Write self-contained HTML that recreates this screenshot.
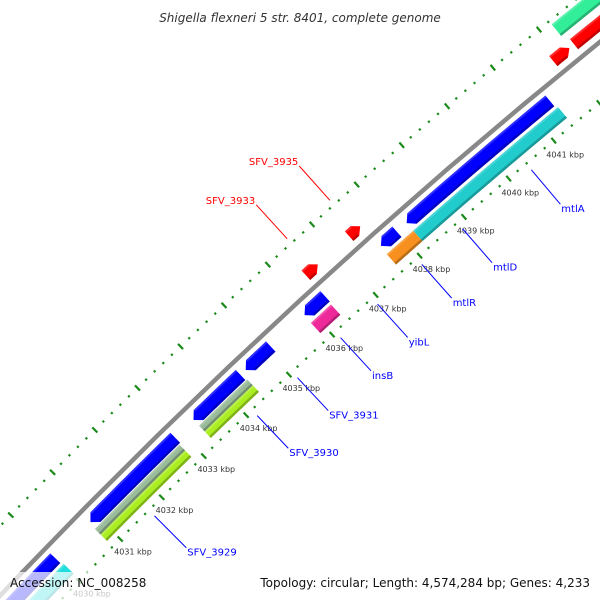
<!DOCTYPE html>
<html><head><meta charset="utf-8"><style>
html,body{margin:0;padding:0;background:#fff;width:600px;height:600px;overflow:hidden;}
svg{display:block;font-family:"DejaVu Sans","Liberation Sans",sans-serif;}
</style></head><body>
<svg id="map" width="600" height="600" viewBox="0 0 600 600" xmlns="http://www.w3.org/2000/svg">
<rect x="0" y="0" width="600" height="600" fill="#fff"/>
<g id="rulers"></g>
<g id="backbone"></g>
<g id="features"></g>
<g id="ticklabels"></g>
<g id="genelabels"></g>
<text x="300" y="22" text-anchor="middle" font-size="12" font-style="italic" fill="#333">Shigella flexneri 5 str. 8401, complete genome</text>
<rect x="0" y="572" width="150" height="28" fill="#fff" fill-opacity="0.72"/>
<rect x="255" y="572" width="345" height="28" fill="#fff" fill-opacity="0.72"/>
<text x="10" y="587" font-size="12" fill="#111">Accession: NC_008258</text>
<text x="590" y="587" text-anchor="end" font-size="12" fill="#111">Topology: circular; Length: 4,574,284 bp; Genes: 4,233</text>
</svg>
<script>
// ---- data ----
const featStart  = [4027.5, 4027.5, 4030.85, 4030.82, 4030.82, 4033.3, 4033.3, 4033.3, 4034.52, 4035.88, 4035.87, 4036.35, 4037.33, 4037.62, 4037.6, 4038.2, 4038.2, 4041.85, 4042.3, 4042.22];
const featEnd    = [4030.0, 4030.03, 4032.87, 4032.84, 4032.84, 4034.4, 4034.43, 4034.43, 4035.1, 4036.35, 4036.33, 4036.62, 4037.58, 4037.98, 4038.2, 4041.38, 4041.42, 4042.2, 4044.5, 4044.5];
const featTrack  = [2, 3, 2, 4, 5, 2, 4, 5, 2, 2, 3, 1, 1, 2, 3, 2, 3, 1, 1, 0];
const featStrand = [-1, 0, -1, 0, 0, -1, 0, 0, -1, -1, 0, 1, 1, -1, 0, -1, 0, 1, 1, 0];
const featColor  = ["#0000ff","#22dddd","#0000ff","#99bb99","#aaee22","#0000ff","#99bb99","#aaee22","#0000ff","#0000ff","#ee2a9a","#ff0000","#ff0000","#0000ff","#f7901e","#0000ff","#22cccc","#ff0000","#ff0000","#33ee99"];
const tickKbp    = [4030, 4031, 4032, 4033, 4034, 4035, 4036, 4037, 4038, 4039, 4040, 4041];
const tickText   = ["4030 kbp","4031 kbp","4032 kbp","4033 kbp","4034 kbp","4035 kbp","4036 kbp","4037 kbp","4038 kbp","4039 kbp","4040 kbp","4041 kbp"];
const geneNames  = ["mtlA","mtlD","mtlR","yibL","insB","SFV_3931","SFV_3930","SFV_3929","SFV_3935","SFV_3933"];
const geneKbp    = [4040.39, 4038.85, 4037.93, 4036.92, 4036.07, 4035.07, 4034.13, 4031.69, 4037.49, 4036.53];
const geneStrand = [-1, -1, -1, -1, -1, -1, -1, -1, 1, 1];

// ---- geometry (circular map scale) ----
const CX = 4462, CY = 4828, PHI0 = -131.48, K0 = 4038, DEG = 0.553;
const R_BACK = 6150, R_IN = 6103, R_OUT = 6198;
const trackIn  = [6179, 6158, 6129, 6112, 6120, 6111];
const trackOut = [6194, 6171, 6143, 6126, 6128, 6120];
const NS = "http://www.w3.org/2000/svg";
function ang(k){ return (PHI0 + (k - K0) * DEG) * Math.PI / 180; }
function pt(k, r){ const a = ang(k); return [CX + r * Math.cos(a), CY + r * Math.sin(a)]; }
function arc(k1, k2, r){ const out = []; const n = 12; for (let i = 0; i <= n; i++){ out.push(pt(k1 + (k2 - k1) * i / n, r)); } return out; }
function ps(arr){ return arr.map(p => p[0].toFixed(2) + "," + p[1].toFixed(2)).join(" "); }

// rulers
const rulers = document.getElementById("rulers");
[R_IN, R_OUT].forEach((R, ri) => {
  for (let i = 0; i <= 90; i++){
    const k = 4027 + i * 0.2;
    const major = (i % 5 === 0);
    const h = major ? 3.6 : 1.1;
    const a = pt(k, R - h), b = pt(k, R + h);
    const ln = document.createElementNS(NS, "line");
    
    
    ln.setAttribute("x1", a[0]); ln.setAttribute("y1", a[1]);
    ln.setAttribute("x2", b[0]); ln.setAttribute("y2", b[1]);
    ln.setAttribute("stroke", "#1a8a1a"); ln.setAttribute("stroke-width", "2.2");
    rulers.appendChild(ln);
  }
});

// backbone
const bb = document.createElementNS(NS, "polyline");


bb.setAttribute("points", ps(arc(4026, 4046, R_BACK)));
bb.setAttribute("fill", "none"); bb.setAttribute("stroke", "#888"); bb.setAttribute("stroke-width", "4.5");
document.getElementById("backbone").appendChild(bb);

// features
const fg = document.getElementById("features");
for (let i = 0; i < featStart.length; i++){
  const s = featStart[i], e = featEnd[i], t = featTrack[i], st = featStrand[i];
  const ri = trackIn[t], ro = trackOut[t], rm = (ri + ro) / 2;
  const h = 0.12;
  let pts;
  if (st === -1){
    pts = [pt(s, rm)].concat(arc(s + h, e, ro)).concat(arc(e, s + h, ri));
  } else if (st === 1){
    pts = arc(s, e - h, ro).concat([pt(e, rm)]).concat(arc(e - h, s, ri));
  } else {
    pts = arc(s, e, ro).concat(arc(e, s, ri));
  }
  const g = document.createElementNS(NS, "g");
  
  
  const p = document.createElementNS(NS, "polygon");
  
  
  p.setAttribute("points", ps(pts));
  p.setAttribute("fill", featColor[i]);
  g.appendChild(p);
  const s2 = st === -1 ? s + h : s, e2 = st === 1 ? e - h : e;
  const sh = document.createElementNS(NS, "polygon");
  
  
  sh.setAttribute("points", ps(arc(s2, e2, ri + 2.5).concat(arc(e2, s2, ri))));
  sh.setAttribute("fill", "#000"); sh.setAttribute("fill-opacity", "0.25");
  g.appendChild(sh);
  const hl = document.createElementNS(NS, "polygon");
  
  
  hl.setAttribute("points", ps(arc(s2, e2, ro).concat(arc(e2, s2, ro - 2))));
  hl.setAttribute("fill", "#fff"); hl.setAttribute("fill-opacity", "0.18");
  g.appendChild(hl);
  fg.appendChild(g);
}

// tick labels
const tl = document.getElementById("ticklabels");
for (let i = 0; i < tickKbp.length; i++){
  const c = pt(tickKbp[i], R_IN - 18);
  const tx = document.createElementNS(NS, "text");
  
  
  tx.setAttribute("x", c[0].toFixed(1)); tx.setAttribute("y", (c[1] + 3).toFixed(1));
  tx.setAttribute("text-anchor", "middle"); tx.setAttribute("font-size", "8");
  tx.setAttribute("fill", "#333");
  tx.textContent = tickText[i];
  tl.appendChild(tx);
}

// gene labels
const gl = document.getElementById("genelabels");
for (let i = 0; i < geneNames.length; i++){
  const fwd = geneStrand[i] === 1;
  const col = fwd ? "#ff0000" : "#0000ff";
  const a = fwd ? pt(geneKbp[i], 6204) : pt(geneKbp[i], 6095);
  const b = fwd ? pt(geneKbp[i], 6250) : pt(geneKbp[i], 6050);
  const ln = document.createElementNS(NS, "line");
  
  
  ln.setAttribute("x1", a[0]); ln.setAttribute("y1", a[1]);
  ln.setAttribute("x2", b[0]); ln.setAttribute("y2", b[1]);
  ln.setAttribute("stroke", col); ln.setAttribute("stroke-width", "1");
  gl.appendChild(ln);
  const tx = document.createElementNS(NS, "text");
  
  
  tx.setAttribute("x", (fwd ? b[0] - 1 : b[0] + 1).toFixed(1));
  tx.setAttribute("y", (fwd ? b[1] - 1 : b[1] + 8).toFixed(1));
  tx.setAttribute("text-anchor", fwd ? "end" : "start");
  tx.setAttribute("font-size", "10"); tx.setAttribute("fill", col);
  tx.textContent = geneNames[i];
  gl.appendChild(tx);
}
</script>
</body></html>
